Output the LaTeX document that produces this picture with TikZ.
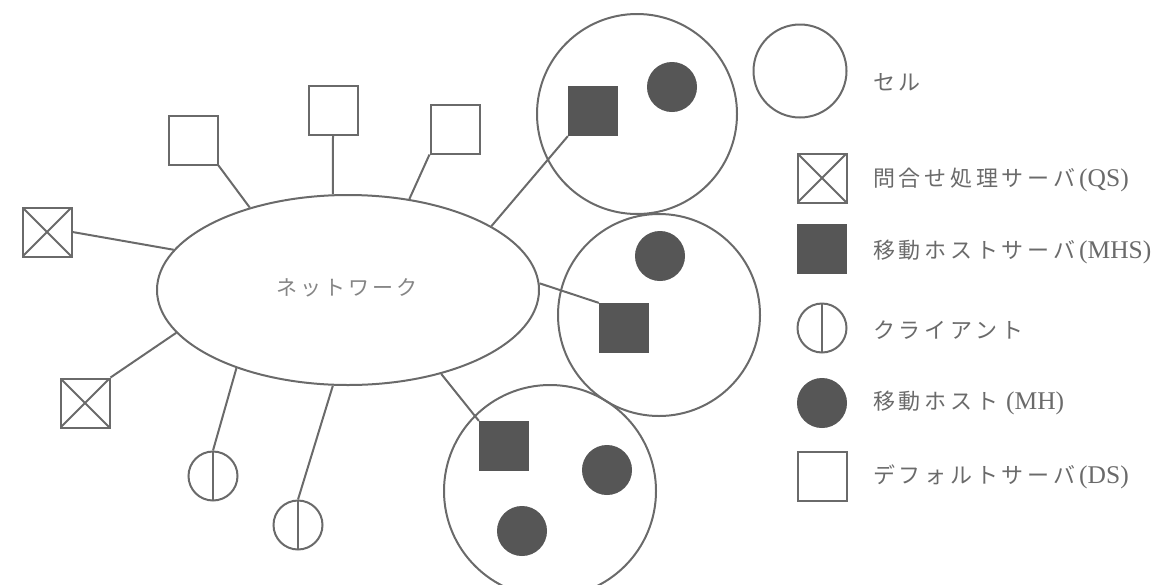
\documentclass[tikz,border=0pt]{standalone}
\usepackage{fontspec}
\usetikzlibrary{shapes.geometric}
\newfontfamily\jp[LetterSpace=17]{Noto Sans CJK JP}
\newfontfamily\jpnet[LetterSpace=14]{Noto Sans CJK JP}
\newfontfamily\lat{Liberation Serif}
\definecolor{linec}{HTML}{6A6A6A}
\definecolor{fillc}{HTML}{565656}
\definecolor{textc}{HTML}{6A6A6A}
\definecolor{nettext}{HTML}{858585}
\tikzset{
  conn/.style={draw=linec, line width=2pt},
  dsbox/.style={draw=linec, line width=2pt, rectangle, minimum width=49pt, minimum height=49pt, inner sep=0pt},
  qsbox/.style={dsbox, path picture={
      \draw[linec, line width=1.8pt] (path picture bounding box.south west) -- (path picture bounding box.north east)
                                     (path picture bounding box.north west) -- (path picture bounding box.south east);}},
  mhsbox/.style={draw=fillc, fill=fillc, line width=1.2pt, rectangle, minimum width=49pt, minimum height=49pt, inner sep=0pt},
  mhdot/.style={draw=fillc, fill=fillc, line width=1pt, circle, minimum size=49pt, inner sep=0pt},
  client/.style={draw=linec, line width=2pt, circle, minimum size=49pt, inner sep=0pt, path picture={
      \draw[linec, line width=1.8pt] (path picture bounding box.north) -- (path picture bounding box.south);}},
  cell/.style={draw=linec, line width=2pt, circle, inner sep=0pt},
  lbl/.style={anchor=west, inner sep=0pt, text=textc, font=\fontsize{22}{26}\selectfont},
}
\newcommand{\latn}[2][4pt]{\hspace{#1}{\lat\fontsize{25.5}{28}\selectfont #2}}
\begin{document}
\begin{tikzpicture}[x=1pt, y=-1pt]
\useasboundingbox (0,0) rectangle (1158,584);
\clip (0,0) rectangle (1158,584);

% network
\node[draw=linec, line width=2pt, ellipse, minimum width=382pt, minimum height=190pt, inner sep=0pt] (net) at (348,290) {};
\node[inner sep=0pt, text=nettext, font=\fontsize{21}{24}\selectfont] (nettxt) at (347,288) {\jpnet ネットワーク};

% cells
\node[cell, minimum size=200pt] (cell1) at (637,114) {};
\node[cell, minimum size=202pt] (cell2) at (659,315) {};
\node[cell, minimum size=212pt] (cell3) at (550,491) {};

% query servers
\node[qsbox] (qs1) at (47,232) {};
\node[qsbox] (qs2) at (85,403) {};
% default servers
\node[dsbox] (ds1) at (193,140) {};
\node[dsbox] (ds2) at (333,110) {};
\node[dsbox] (ds3) at (455,129) {};
% clients
\node[client] (c1) at (213,476) {};
\node[client] (c2) at (298,525) {};
% mobile host servers
\node[mhsbox] (mhs1) at (593,111) {};
\node[mhsbox] (mhs2) at (624,328) {};
\node[mhsbox] (mhs3) at (504,446) {};
% mobile hosts
\node[mhdot] (mh1) at (672,87) {};
\node[mhdot] (mh2) at (660,256) {};
\node[mhdot] (mh3) at (607,470) {};
\node[mhdot] (mh4) at (522,531) {};

% connectors
\draw[conn] (qs1.east) -- (net.167);
\draw[conn] (qs2.north east) -- (net.194.4);
\draw[conn] (ds1.south east) -- (net.140.6);
\draw[conn] (ds2.south) -- (net.99);
\draw[conn] (ds3.south west) -- (net.56.8);
\draw[conn] (mhs1.south west) -- (net.24.4);
\draw[conn] (mhs2.north west) -- (net.2.7);
\draw[conn] (mhs3.north west) -- (net.-42.4);
\draw[conn] (c1.north) -- (net.215.5);
\draw[conn] (c2.north) -- (net.261.1);

% legend
\node[cell, minimum size=93pt] (lcell) at (800,71) {};
\node[lbl] (tcell) at (873,82) {\jp セル};
\node[qsbox] (lqs) at (822,178) {};
\node[lbl] (tqs) at (873,180) {\jp 問合せ処理サーバ\latn{(QS)}};
\node[mhsbox] (lmhs) at (822,249) {};
\node[lbl] (tmhs) at (873,252) {\jp 移動ホストサーバ\latn{(MHS)}};
\node[client] (lcl) at (822,328) {};
\node[lbl] (tcl) at (873,330) {\jp クライアント};
\node[mhdot] (lmh) at (822,403) {};
\node[lbl] (tmh) at (873,403) {\jp 移動ホスト\latn[8pt]{(MH)}};
\node[dsbox] (lds) at (822,476) {};
\node[lbl] (tds) at (873,477) {\jp デフォルトサーバ\latn{(DS)}};
\end{tikzpicture}
\end{document}
